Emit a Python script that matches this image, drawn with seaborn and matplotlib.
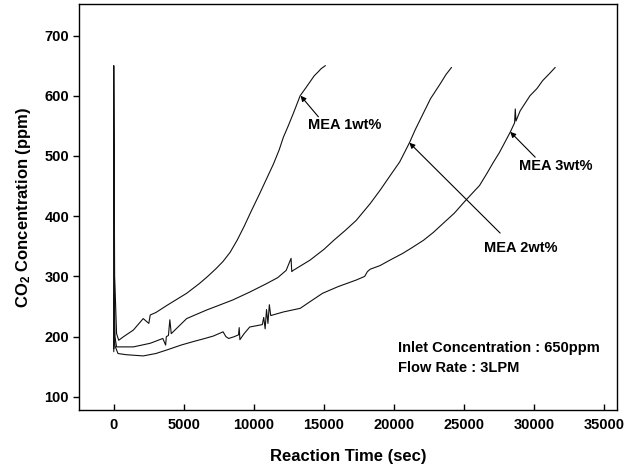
import matplotlib
matplotlib.use("Agg")
import matplotlib.pyplot as plt
import seaborn as sns
import pandas as pd

# Breakthrough curves: outlet CO2 vs. reaction time for three MEA loadings
mea1_time = [0, 0, 60, 200, 350, 700, 1400, 2100, 2500, 2600, 3000, 3800, 4500,
             5200, 6100, 6700, 7300, 7800, 8300, 8800, 9300, 9800, 10400,
             10900, 11400, 11800, 12100, 12450, 12800, 13000, 13300, 13700,
             14000, 14300, 14600, 14800, 15100]
mea1_conc = [180, 650, 300, 205, 194, 200, 211, 230, 222, 236, 240, 252, 262,
             272, 288, 300, 313, 325, 340, 360, 383, 408, 437,
             462, 487, 510, 531, 550, 570, 582, 600, 613,
             623, 633, 640, 645, 650]

mea2_time = [0, 0, 80, 200, 1400, 2600, 3500, 3700, 3750, 3900, 4000, 4100,
             5200, 6000, 6600, 7500, 8500, 9700, 10900, 11700, 12300, 12650,
             12700, 12800, 14000, 15000, 15700, 16500, 17300, 18300, 19000,
             19800, 20400, 21100, 21500, 21900, 22600, 23300, 23700, 24100]
mea2_conc = [180, 445, 200, 183, 183, 189, 197, 186, 200, 202, 228, 205,
             230, 238, 244, 252, 261, 274, 288, 298, 310, 330,
             308, 310, 327, 345, 360, 376, 393, 421, 443,
             470, 490, 522, 543, 562, 595, 620, 635, 647]

mea3_time = [0, 0, 80, 300, 900, 2100, 3000, 3800, 4800, 5700, 6500, 7100,
             7800, 8000, 8200, 8600, 8900, 8950, 9000, 9300, 9700, 10600,
             10700, 10800, 10900, 11000, 11100, 11200, 12100, 13300, 14000,
             14900, 16000, 17300, 17900, 18100, 18300, 19000, 19700, 20600,
             21300, 22100, 22800, 23500, 24300, 25100, 26100, 26600, 27100,
             27500, 27800, 28300, 28600, 28650, 28700, 29000, 29700, 30200,
             30600, 31100, 31500]
mea3_conc = [175, 270, 185, 172, 170, 168, 172, 178, 186, 192, 197, 201,
             208, 200, 197, 200, 203, 215, 195, 205, 216, 220,
             232, 213, 245, 222, 253, 235, 241, 247, 258,
             272, 283, 294, 300, 308, 312, 318, 327, 338,
             348, 360, 373, 388, 405, 426, 451, 470, 490,
             505, 518, 540, 555, 578, 558, 575, 600, 612,
             625, 637, 647]

series_names = ["MEA 1wt%", "MEA 2wt%", "MEA 3wt%"]

xticks = [0, 5000, 10000, 15000, 20000, 25000, 30000, 35000]
yticks = [100, 200, 300, 400, 500, 600, 700]

frames = []
for name, t, c in zip(series_names, [mea1_time, mea2_time, mea3_time],
                      [mea1_conc, mea2_conc, mea3_conc]):
    frames.append(pd.DataFrame({"time": t, "conc": c, "series": name}))
df = pd.concat(frames, ignore_index=True)

sns.set_theme(style="ticks")
plt.rcParams["font.family"] = ["Liberation Sans", "DejaVu Sans"]
plt.rcParams["font.weight"] = "bold"
plt.rcParams["text.color"] = "black"
plt.rcParams["axes.labelcolor"] = "black"
plt.rcParams["xtick.color"] = "black"
plt.rcParams["ytick.color"] = "black"
plt.rcParams["mathtext.fontset"] = "custom"
plt.rcParams["mathtext.rm"] = "Liberation Sans:bold"
plt.rcParams["mathtext.bf"] = "Liberation Sans:bold"
plt.rcParams["mathtext.it"] = "Liberation Sans:bold"

fig = plt.figure(figsize=(6.25, 4.65), dpi=100)
ax = fig.add_axes([0.126, 0.118, 0.861, 0.873])

for name in series_names:
    sub = df[df["series"] == name]
    sns.lineplot(data=sub, x="time", y="conc", sort=False, estimator=None,
                 color="#111111", linewidth=0.8, ax=ax)

ax.set_xlim(-2500, 35900)
ax.set_ylim(78, 752)
ax.set_xticks(xticks)
ax.set_yticks(yticks)
ax.set_xticklabels([str(v) for v in xticks], fontsize=10.5, fontweight="bold")
ax.set_yticklabels([str(v) for v in yticks], fontsize=10.5, fontweight="bold")
ax.tick_params(axis="x", direction="in", length=4, width=1.0, pad=6)
ax.tick_params(axis="y", direction="out", length=4, width=1.0, pad=3)
for sp in ax.spines.values():
    sp.set_linewidth(1.0)
    sp.set_color("black")

ax.set_xlabel("Reaction Time (sec)", fontsize=12, fontweight="bold", labelpad=12)
ax.set_ylabel(r"CO$_{2}$ Concentration (ppm)", fontsize=12, fontweight="bold",
              labelpad=8)

arrow = dict(arrowstyle="-|>", color="black", lw=0.8, mutation_scale=8,
             shrinkA=0, shrinkB=0)
ax.text(16500, 551, "MEA 1wt%", ha="center", va="center", fontsize=10.5,
        fontweight="bold")
ax.annotate("", xy=(13330, 600), xytext=(14600, 565), arrowprops=arrow)
ax.text(29070, 347, "MEA 2wt%", ha="center", va="center", fontsize=10.5,
        fontweight="bold")
ax.annotate("", xy=(21090, 522), xytext=(27570, 372), arrowprops=arrow)
ax.text(31570, 483, "MEA 3wt%", ha="center", va="center", fontsize=10.5,
        fontweight="bold")
ax.annotate("", xy=(28290, 540), xytext=(30070, 498), arrowprops=arrow)

ax.text(20290, 181, "Inlet Concentration : 650ppm", ha="left", va="center",
        fontsize=10.5, fontweight="bold")
ax.text(20290, 148, "Flow Rate : 3LPM", ha="left", va="center",
        fontsize=10.5, fontweight="bold")

fig.savefig("out.png", dpi=100)
